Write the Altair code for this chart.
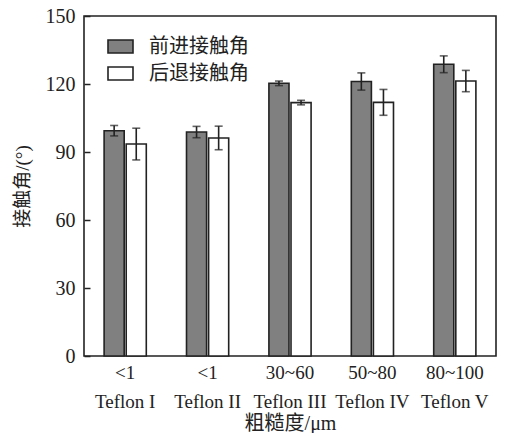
import altair as alt
import pandas as pd

categories = ["<1|Teflon I", "<1|Teflon II", "30~60|Teflon III", "50~80|Teflon IV", "80~100|Teflon V"]
series = ["前进接触角", "后退接触角"]
advancing = [99.4, 98.8, 120.3, 121.1, 128.7]
advancing_err = [2.3, 2.5, 1.0, 3.8, 3.7]
receding = [93.5, 96.2, 111.8, 111.9, 121.3]
receding_err = [7.0, 5.2, 1.0, 5.7, 4.7]
y_ticks = [0, 30, 60, 90, 120, 150]

rows = []
for c, v, e in zip(categories, advancing, advancing_err):
    rows.append({"cat": c, "series": series[0], "value": v, "lo": v - e, "hi": v + e})
for c, v, e in zip(categories, receding, receding_err):
    rows.append({"cat": c, "series": series[1], "value": v, "lo": v - e, "hi": v + e})
df = pd.DataFrame(rows)

FONT = "Liberation Serif, Noto Sans CJK SC"
INK = "#222222"

x_enc = alt.X("cat:N", sort=categories, scale=alt.Scale(paddingInner=0, paddingOuter=0),
              axis=alt.Axis(title="粗糙度/μm", labelExpr="split(datum.label, '|')",
                            labelAngle=0, ticks=False, domain=False, labelPadding=7,
                            labelLineHeight=29, titlePadding=2, labelFontSize=19,
                            titleFontSize=20))
xoff = alt.XOffset("series:N", sort=series,
                   scale=alt.Scale(paddingInner=0.0909, paddingOuter=0.91))

bars = alt.Chart(df).mark_bar(stroke=INK, strokeWidth=1.6).encode(
    x=x_enc,
    xOffset=xoff,
    y=alt.Y("value:Q", scale=alt.Scale(domain=[0, 150], nice=False),
            axis=alt.Axis(title="接触角/(°)", values=y_ticks, offset=-6, tickSize=6,
                          tickColor=INK, tickWidth=1.5, domain=False, grid=False,
                          labelPadding=9, labelFontSize=20, titleFontSize=19,
                          titlePadding=13)),
    fill=alt.Fill("series:N", sort=series,
                  scale=alt.Scale(domain=series, range=["#808080", "#ffffff"]),
                  legend=alt.Legend(title=None, orient="none", legendX=23, legendY=17,
                                    symbolType="M-1,-0.52H1V0.52H-1Z", symbolSize=625,
                                    symbolStrokeColor=INK, symbolStrokeWidth=1.6,
                                    symbolOpacity=1, labelFontSize=20, labelOffset=15,
                                    rowPadding=3, padding=0, labelFont=FONT)),
)

rules = alt.Chart(df).mark_rule(color=INK, strokeWidth=1.6).encode(
    x=alt.X("cat:N", sort=categories),
    xOffset=xoff,
    y="lo:Q",
    y2="hi:Q",
)
caps_lo = alt.Chart(df).mark_tick(color=INK, thickness=1.6, size=8).encode(
    x=alt.X("cat:N", sort=categories), xOffset=xoff, y="lo:Q")
caps_hi = alt.Chart(df).mark_tick(color=INK, thickness=1.6, size=8).encode(
    x=alt.X("cat:N", sort=categories), xOffset=xoff, y="hi:Q")

chart = alt.layer(bars, rules, caps_lo, caps_hi).properties(
    width=412, height=340,
    autosize=alt.AutoSizeParams(type="none"),
    padding={"left": 76, "top": 8, "right": 1, "bottom": 77},
).configure_view(stroke=INK, strokeWidth=1.6).configure_axis(
    labelFont=FONT, titleFont=FONT, labelColor=INK, titleColor=INK,
    titleFontWeight="normal",
).configure_legend(labelFont=FONT, labelColor=INK)

chart.save("out.html", embed_options={"renderer": "svg", "actions": False})
